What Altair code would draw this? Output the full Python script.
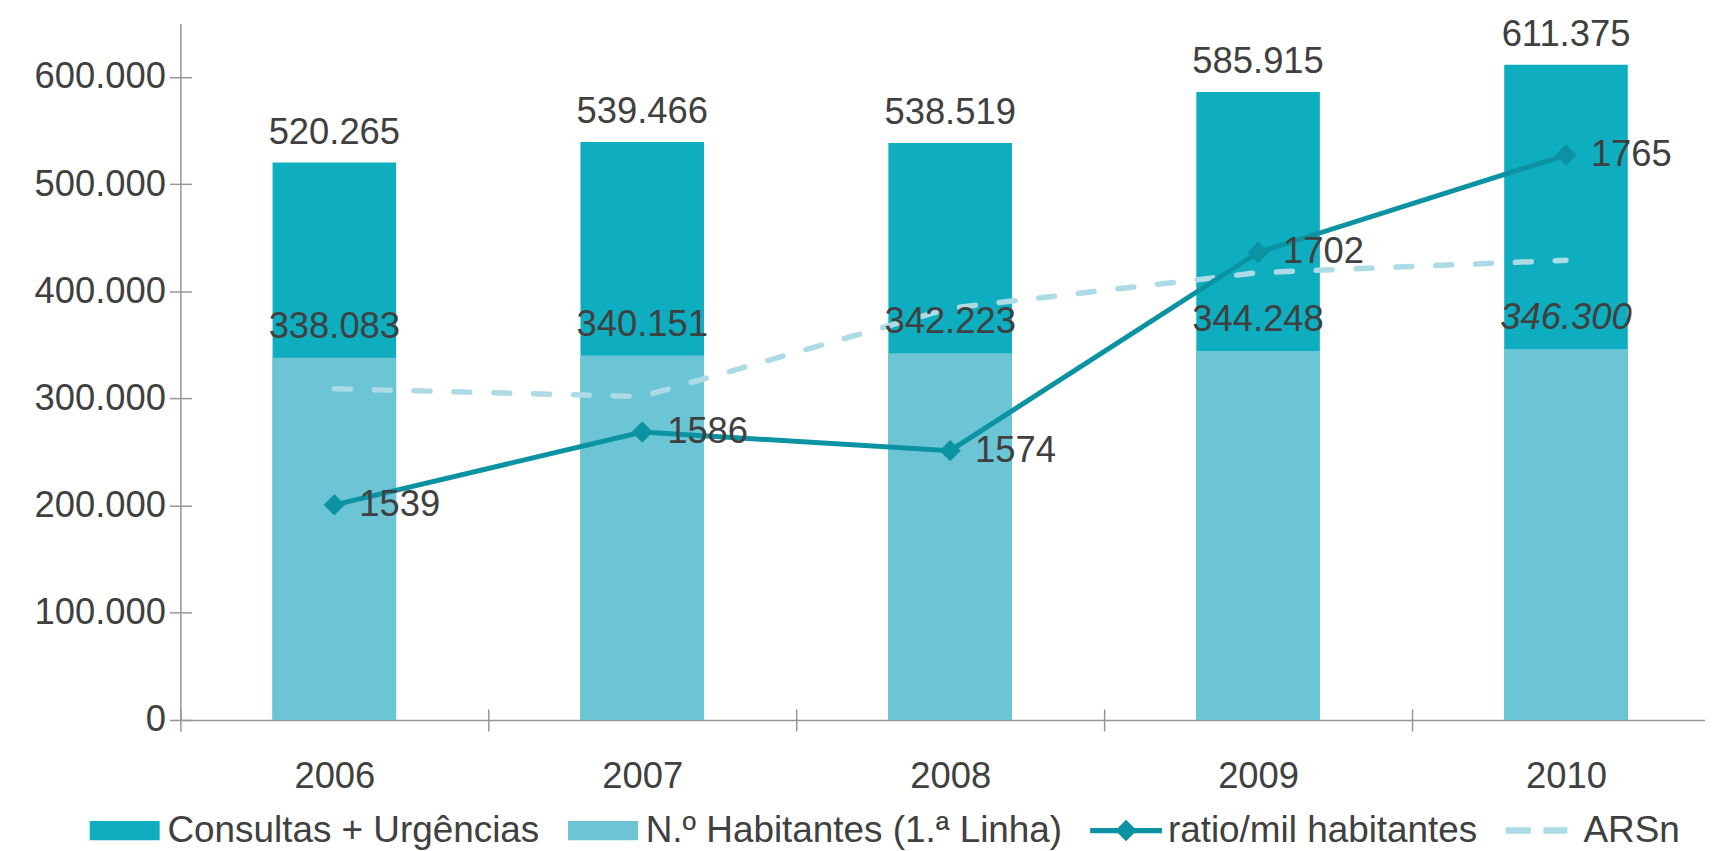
import altair as alt
import pandas as pd

# ---------------- data ----------------
years = ["2006", "2007", "2008", "2009", "2010"]
consultas = [520265, 539466, 538519, 585915, 611375]
habitantes = [338083, 340151, 342223, 344248, 346300]
ratio = [1539, 1586, 1574, 1702, 1765]
arsn = [1614, 1609, 1666, 1689, 1697]
italic_years = ["2010"]
y_ticks = [0, 100000, 200000, 300000, 400000, 500000, 600000]

series = ["Consultas + Urgências", "N.º Habitantes (1.ª Linha)", "ratio/mil habitantes", "ARSn"]
colors = ["#0eadbf", "#6bc5d5", "#0b93a3", "#acdbe5"]


def pt(v):
    return f"{v:,}".replace(",", ".")


df = pd.DataFrame({
    "ano": years,
    "consultas": consultas,
    "habitantes": habitantes,
    "ratio": ratio,
    "arsn": arsn,
    "lab_c": [pt(v) for v in consultas],
    "lab_h": [pt(v) for v in habitantes],
    "lab_r": [str(v) for v in ratio],
})
df["italic"] = df["ano"].isin(italic_years)
leg_df = pd.DataFrame({"serie": series})

# ---------------- styling ----------------
FONT = "Liberation Sans"
FS = 36.5
TXT = "#404040"
AX = "#969696"

x_scale = alt.Scale(range=[0, 1545], paddingInner=0, paddingOuter=0)
y1_scale = alt.Scale(domain=[0, 650000], nice=False, zero=True)
y2_scale = alt.Scale(domain=[1400, 1850], nice=False, zero=False)

x_axis_main = alt.Axis(title=None, orient="bottom", labelAngle=0, tickBand="extent",
                       tickSize=11, labelPadding=28, labelFontSize=FS, labelColor=TXT,
                       labelFont=FONT, domainColor=AX, tickColor=AX, domainWidth=1.5,
                       tickWidth=1.5, grid=False)
x_axis_inner = alt.Axis(title=None, orient="bottom", offset=-11, tickBand="extent",
                        tickSize=11, labels=False, domain=False, tickColor=AX,
                        tickWidth=1.5, grid=False)
y_axis_main = alt.Axis(title=None, orient="left", values=y_ticks,
                       labelExpr="replace(format(datum.value, ','), regexp(',', 'g'), '.')",
                       tickSize=11, labelPadding=4, labelFontSize=FS, labelColor=TXT,
                       labelFont=FONT, domainColor=AX, tickColor=AX, domainWidth=1.5,
                       tickWidth=1.5, grid=False)
y_axis_inner = alt.Axis(title=None, orient="left", offset=-11, values=y_ticks,
                        tickSize=11, labels=False, domain=False, tickColor=AX,
                        tickWidth=1.5, grid=False)

base = alt.Chart(df)
xn = alt.X("ano:N", scale=x_scale, axis=None)

bar_dark = base.mark_bar(size=124, color=colors[0]).encode(
    x=alt.X("ano:N", scale=x_scale, axis=x_axis_main),
    y=alt.Y("consultas:Q", scale=y1_scale, axis=y_axis_main),
)
bar_light = base.mark_bar(size=124, color=colors[1]).encode(
    x=alt.X("ano:N", scale=x_scale, axis=x_axis_inner),
    y=alt.Y("habitantes:Q", scale=y1_scale, axis=y_axis_inner),
)
bars = alt.layer(bar_dark, bar_light).resolve_axis(x="independent", y="independent")

dashed = base.mark_line(color=colors[3], strokeWidth=5.5, strokeDash=[16, 24],
                        strokeCap="round").encode(
    x=xn, y=alt.Y("arsn:Q", scale=y2_scale, axis=None))
line = base.mark_line(color=colors[2], strokeWidth=5).encode(
    x=xn, y=alt.Y("ratio:Q", scale=y2_scale, axis=None))
points = base.mark_point(shape="diamond", size=460, filled=True, opacity=1,
                         color=colors[2]).encode(
    x=xn, y=alt.Y("ratio:Q", scale=y2_scale, axis=None))

txt_c = base.mark_text(fontSize=FS, font=FONT, color=TXT, baseline="alphabetic",
                       dy=-19).encode(
    x=xn, y=alt.Y("consultas:Q", scale=y1_scale, axis=None), text="lab_c:N")
txt_h = base.transform_filter("!datum.italic").mark_text(
    fontSize=FS, font=FONT, color=TXT, baseline="alphabetic", dy=-20).encode(
    x=xn, y=alt.Y("habitantes:Q", scale=y1_scale, axis=None), text="lab_h:N")
txt_hi = base.transform_filter("datum.italic").mark_text(
    fontSize=FS, font=FONT, color=TXT, baseline="alphabetic", dy=-20,
    fontStyle="italic").encode(
    x=xn, y=alt.Y("habitantes:Q", scale=y1_scale, axis=None), text="lab_h:N")
txt_r = base.mark_text(fontSize=FS, font=FONT, color=TXT, align="left",
                       baseline="middle", dx=25).encode(
    x=xn, y=alt.Y("ratio:Q", scale=y2_scale, axis=None), text="lab_r:N")

paths = [
    "M-1,-0.27H0.95V0.27H-1Z",
    "M-1,-0.27H0.95V0.27H-1Z",
    "M-1,-0.075H1V0.075H-1Z M0,-0.3L0.3,0L0,0.3L-0.3,0Z",
    "M-1,-0.09H-0.3V0.09H-1Z M0.05,-0.09H0.72V0.09H0.05Z",
]
leg = alt.Legend(title=None, orient="none", legendX=-91, legendY=774,
                 direction="horizontal", symbolSize=5184, symbolStrokeWidth=0,
                 symbolOpacity=1, labelFontSize=37, labelFont=FONT, labelColor=TXT,
                 labelLimit=1000, labelOffset=6, columnPadding=28, padding=0)
legend_layer = alt.Chart(leg_df).mark_point(opacity=0, filled=True).encode(
    color=alt.Color("serie:N", scale=alt.Scale(domain=series, range=colors), legend=leg),
    shape=alt.Shape("serie:N", scale=alt.Scale(domain=series, range=paths), legend=leg),
)

chart = alt.layer(
    bars, dashed, line, points, txt_c, txt_h, txt_hi, txt_r, legend_layer
).resolve_scale(y="independent").resolve_axis(x="independent", y="independent").properties(
    width=1530, height=699,
    autosize=alt.AutoSizeParams(type="none"),
    padding={"left": 173, "top": 14, "right": 0, "bottom": 129},
).configure(font=FONT).configure_view(stroke=None)

chart.save("out.html", embed_options={"renderer": "svg", "actions": False})
